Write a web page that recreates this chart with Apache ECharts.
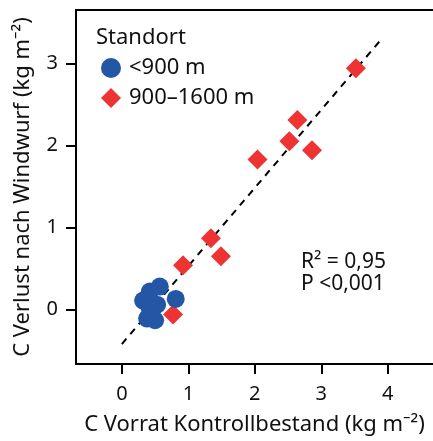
<!DOCTYPE html>
<html><head><meta charset="utf-8">
<script src="https://cdn.jsdelivr.net/npm/echarts@6/dist/echarts.min.js"></script>
<style>html,body{margin:0;padding:0;background:#fff}#c{width:433px;height:441px}</style>
</head><body><div id="c"></div>
<script>
var lowSites = [[0.57,0.28],[0.42,0.22],[0.81,0.13],[0.32,0.11],[0.53,0.06],[0.42,0.01],[0.38,-0.11],[0.50,-0.13]];
var highSites = [[3.52,2.94],[2.64,2.31],[2.52,2.05],[2.86,1.94],[2.04,1.83],[1.34,0.87],[1.49,0.65],[0.92,0.54],[0.77,-0.06]];
var fitLine = [[0,-0.42],[3.92,3.31]];
var xTicks = [0,1,2,3,4];
var yTicks = [0,1,2,3];
var seriesNames = ['<900 m','900–1600 m'];
var FONT = 'Noto Sans';
var XMIN = -0.69, XMAX = 4.68, YMIN = -0.663, YMAX = 3.65;
var chart = echarts.init(document.getElementById('c'));
chart.setOption({
  animation:false,
  textStyle:{fontFamily:FONT},
  grid:{left:76, top:10, right:0, bottom:73},
  xAxis:[{type:'value', min:XMIN, max:XMAX, position:'bottom',
    name:'C Vorrat Kontrollbestand (kg m⁻²)', nameLocation:'middle', nameGap:50,
    nameTextStyle:{fontSize:22, color:'#111', fontFamily:FONT},
    axisLine:{show:true, onZero:false, lineStyle:{color:'#000', width:2}},
    axisTick:{show:true, length:10, lineStyle:{color:'#000', width:2}, customValues:xTicks},
    axisLabel:{fontSize:20, color:'#111', margin:20, customValues:xTicks},
    splitLine:{show:false}},
   {type:'value', min:XMIN, max:XMAX, position:'top',
    axisLine:{show:true, onZero:false, lineStyle:{color:'#000', width:2}},
    axisTick:{show:false}, axisLabel:{show:false}, splitLine:{show:false}}],
  yAxis:{type:'value', min:YMIN, max:YMAX,
    name:'C Verlust nach Windwurf (kg m⁻²)', nameLocation:'middle', nameGap:42,
    nameTextStyle:{fontSize:22, color:'#111', fontFamily:FONT},
    axisLine:{show:true, onZero:false, lineStyle:{color:'#000', width:2}},
    axisTick:{show:true, length:10, lineStyle:{color:'#000', width:2}, customValues:yTicks},
    axisLabel:{fontSize:20, color:'#111', margin:18, customValues:yTicks, padding:[3,0,0,0]},
    splitLine:{show:false}},
  legend:{orient:'vertical', left:96, top:52, itemWidth:20, itemHeight:20, itemGap:8,
    textStyle:{fontSize:22, color:'#111', fontFamily:FONT, padding:[0,0,0,3]},
    data:[{name:seriesNames[0], icon:'circle'},{name:seriesNames[1], icon:'diamond'}]},
  graphic:[
    {type:'text', x:96, y:38, style:{text:'Standort', fontSize:22, fontFamily:FONT, fill:'#111', textVerticalAlign:'middle'}},
    {type:'text', x:301, y:262, style:{text:'R² = 0,95', fontSize:21, fontFamily:FONT, fill:'#111', textVerticalAlign:'middle'}},
    {type:'text', x:301, y:284, style:{text:'P <0,001', fontSize:21, fontFamily:FONT, fill:'#111', textVerticalAlign:'middle'}}
  ],
  series:[
    {type:'line', data:fitLine, symbol:'none', silent:true, z:1,
      lineStyle:{color:'#000', width:2, type:[7,6]}},
    {name:seriesNames[0], type:'scatter', data:lowSites, symbol:'circle', symbolSize:18, z:3,
      itemStyle:{color:'#2456a6', opacity:1}},
    {name:seriesNames[1], type:'scatter', data:highSites, symbol:'diamond', symbolSize:[20,20], z:2,
      itemStyle:{color:'#ee3333', opacity:1}}
  ]
});
</script></body></html>
